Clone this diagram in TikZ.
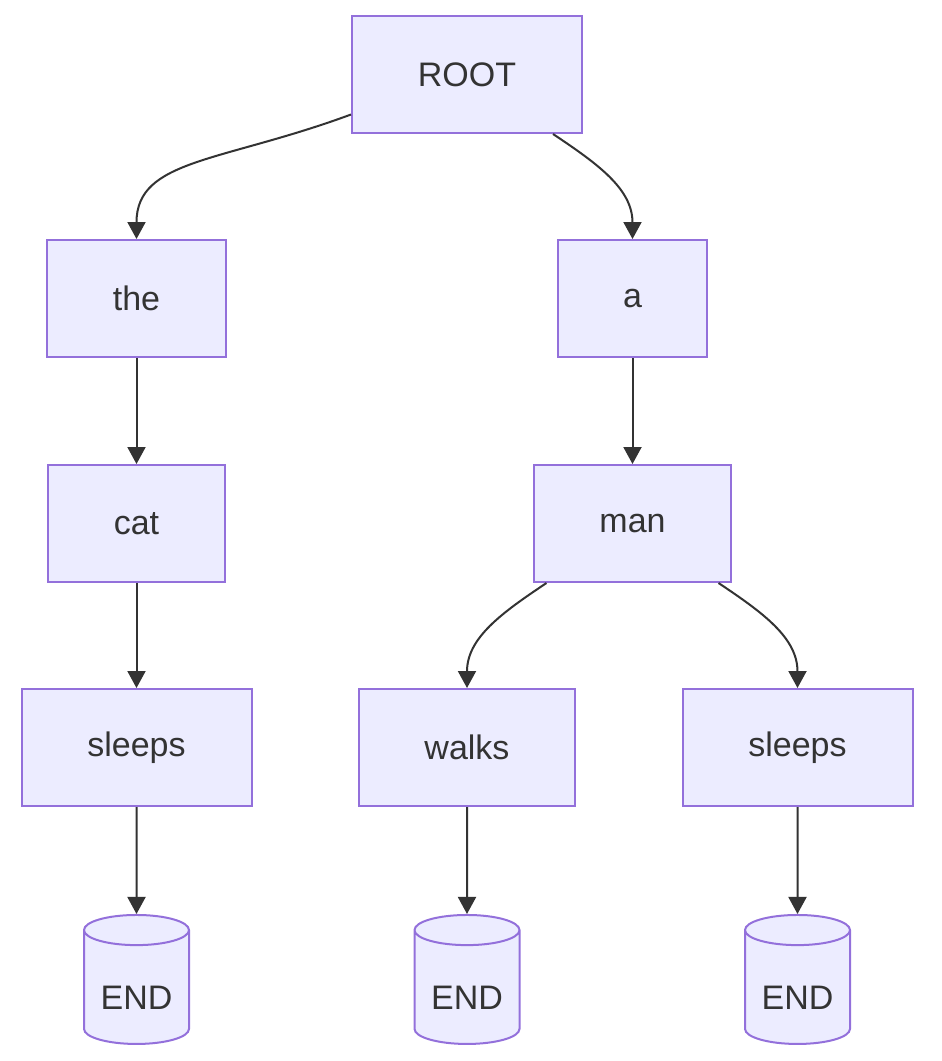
\documentclass[tikz,border=0pt]{standalone}
\usepackage{fontspec}
\setmainfont{Liberation Sans}
\usepackage{xcolor}
\usetikzlibrary{arrows.meta,shapes.geometric}

\definecolor{boxfill}{HTML}{ECECFF}
\definecolor{boxline}{HTML}{9370DB}
\definecolor{ink}{HTML}{333333}

\begin{document}
\begin{tikzpicture}[x=0.5pt, y=-0.5pt, semithick, font=\fontsize{17pt}{20pt}\selectfont, text=ink,
  word/.style={rectangle, draw=boxline, fill=boxfill, line width=1pt, minimum height=58.5pt, inner sep=0pt},
  stop/.style={cylinder, shape border rotate=90, draw=boxline, fill=boxfill, line width=1pt, aspect=0.42, minimum width=52.5pt, minimum height=64.5pt, inner sep=0pt},
  arr/.style={draw=ink, line width=1pt, -{Triangle[length=8.5pt,width=9pt]}}]
\useasboundingbox (0,0) rectangle (942,1061);
\node[word, minimum width=115pt] (ROOT) at (467,74.5) {ROOT};
\node[word, minimum width=89.5pt] (the) at (136.5,298.5) {the};
\node[word, minimum width=74.5pt] (a) at (632.5,298.5) {a};
\node[word, minimum width=88.5pt] (cat) at (136.5,523.5) {cat};
\node[word, minimum width=98.5pt] (man) at (632.5,523.5) {man};
\node[word, minimum width=115pt] (sleepsA) at (136.5,747.5) {sleeps};
\node[word, minimum width=108pt] (walks) at (467,747.5) {walks};
\node[word, minimum width=115pt] (sleepsB) at (797.5,747.5) {sleeps};
\node[stop] (endA) at (136.5,987.5) {\raisebox{-5pt}[\height][\depth]{END}};
\node[stop] (endB) at (467,987.5) {\raisebox{-5pt}[\height][\depth]{END}};
\node[stop] (endC) at (797.5,987.5) {\raisebox{-5pt}[\height][\depth]{END}};
% branches
\draw[arr] ([yshift=-20pt]ROOT.west) .. controls +(-130,48) and +(0,-80) .. (the.north);
\draw[arr] ([xshift=43pt]ROOT.south) .. controls +(45,30) and +(0,-50) .. (a.north);
\draw[arr] ([xshift=-43pt]man.south) .. controls +(-45,30) and +(0,-50) .. (walks.north);
\draw[arr] ([xshift=43pt]man.south) .. controls +(45,30) and +(0,-50) .. (sleepsB.north);
% straight
\draw[arr] (the) -- (cat);
\draw[arr] (a) -- (man);
\draw[arr] (cat) -- (sleepsA);
\draw[arr] (sleepsA) -- (endA);
\draw[arr] (walks) -- (endB);
\draw[arr] (sleepsB) -- (endC);
\end{tikzpicture}
\end{document}
